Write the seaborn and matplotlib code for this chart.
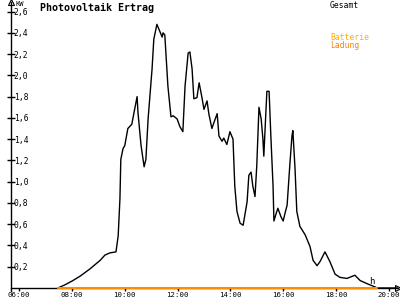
import matplotlib
matplotlib.use("Agg")
import matplotlib.pyplot as plt
import seaborn as sns
import pandas as pd

# Gesamt (kW) over time of day
times = ["7:28", "7:44", "8:00", "8:18", "8:41", "9:04", "9:15", "9:26", "9:40", "9:45",
         "9:49", "9:51", "9:56", "10:00", "10:07", "10:16", "10:21", "10:28", "10:30", "10:37",
         "10:44", "10:48", "10:53", "11:02", "11:06", "11:13", "11:18", "11:25", "11:27", "11:31",
         "11:38", "11:45", "11:50", "11:59", "12:05", "12:12", "12:17", "12:24", "12:28", "12:33",
         "12:37", "12:44", "12:49", "12:55", "13:00", "13:07", "13:11", "13:18", "13:23", "13:30",
         "13:34", "13:41", "13:45", "13:52", "13:59", "14:06", "14:10", "14:15", "14:22", "14:29",
         "14:38", "14:42", "14:47", "14:51", "14:56", "15:00", "15:05", "15:10", "15:14", "15:16",
         "15:21", "15:23", "15:28", "15:32", "15:37", "15:39", "15:44", "15:48", "15:55", "16:00",
         "16:04", "16:09", "16:15", "16:20", "16:22", "16:27", "16:31", "16:38", "16:50", "17:01",
         "17:08", "17:17", "17:24", "17:35", "17:46", "17:58", "18:09", "18:25", "18:43", "18:55",
         "19:11", "19:29", "19:33", "20:20"]
gesamt = [0.0, 0.03, 0.065, 0.11, 0.18, 0.26, 0.31, 0.33, 0.34, 0.49,
          0.84, 1.21, 1.31, 1.34, 1.50, 1.54, 1.65, 1.80, 1.65, 1.34,
          1.14, 1.21, 1.59, 2.06, 2.34, 2.48, 2.43, 2.36, 2.40, 2.38,
          1.90, 1.61, 1.62, 1.59, 1.52, 1.47, 1.90, 2.21, 2.22, 2.06,
          1.78, 1.79, 1.93, 1.80, 1.68, 1.76, 1.64, 1.50, 1.56, 1.64,
          1.43, 1.38, 1.41, 1.35, 1.47, 1.40, 0.96, 0.72, 0.61, 0.59,
          0.81, 1.06, 1.09, 0.96, 0.86, 1.15, 1.70, 1.59, 1.40, 1.24,
          1.68, 1.85, 1.85, 1.43, 0.96, 0.63, 0.70, 0.75, 0.67, 0.63,
          0.70, 0.78, 1.15, 1.43, 1.48, 1.12, 0.72, 0.58, 0.50, 0.39,
          0.26, 0.21, 0.25, 0.34, 0.25, 0.13, 0.10, 0.09, 0.12, 0.07,
          0.04, 0.01, 0.0, 0.0]

# Batterie Ladung (kW)
ladung_times = ["7:28", "19:33"]
ladung = [0.0, 0.0]

x_ticks = ["06:00", "08:00", "10:00", "12:00", "14:00", "16:00", "18:00", "20:00"]
y_ticks = [0.2, 0.4, 0.6, 0.8, 1.0, 1.2, 1.4, 1.6, 1.8, 2.0, 2.2, 2.4, 2.6]


def to_hours(s):
    h, m = s.split(":")
    return int(h) + int(m) / 60.0


df = pd.DataFrame({"t": [to_hours(s) for s in times], "kW": gesamt})
df_l = pd.DataFrame({"t": [to_hours(s) for s in ladung_times], "kW": ladung})

sns.set_theme(style="white")
plt.rcParams["font.family"] = ["DejaVu Sans Mono"]

fig = plt.figure(figsize=(4, 3), dpi=100)
ax = fig.add_axes([11 / 400, 12 / 300, 387 / 400, 286 / 300])

sns.lineplot(data=df, x="t", y="kW", ax=ax, color="black", linewidth=1.0, estimator=None, sort=False)
sns.lineplot(data=df_l, x="t", y="kW", ax=ax, color="#FF8C00", linewidth=1.5, estimator=None, sort=False,
             zorder=5, clip_on=False)

ax.set_xlim(5.69, 20.35)
ax.set_ylim(0, 2.69)
ax.set_xlabel("")
ax.set_ylabel("")

for s in ["top", "right"]:
    ax.spines[s].set_visible(False)
for s in ["left", "bottom"]:
    ax.spines[s].set_color("black")
    ax.spines[s].set_linewidth(1.0)
ax.spines["left"].set_bounds(-0.03, 2.69)
ax.spines["left"].set_clip_on(False)

# arrow heads
ax.plot(1, 0, ">", transform=ax.transAxes, color="black", markersize=4, clip_on=False,
        markerfacecolor="none", markeredgewidth=0.8)
ax.plot(0, 1, "^", transform=ax.transAxes, color="black", markersize=4, clip_on=False,
        markerfacecolor="none", markeredgewidth=0.8)

ax.set_xticks([to_hours(s) for s in x_ticks])
ax.set_xticklabels(x_ticks)
ax.tick_params(axis="x", direction="out", length=2.5, width=1, color="black", labelsize=5.3, pad=0.3,
               bottom=True, labelcolor="black")

ax.set_yticks(y_ticks)
ax.set_yticklabels([f"{v:.1f}".replace(".", ",") for v in y_ticks])
ax.tick_params(axis="y", direction="inout", length=6, width=1, color="black", labelsize=5.8,
               pad=-5, left=True, labelcolor="black")
for lbl in ax.get_yticklabels():
    lbl.set_horizontalalignment("left")

fig.text(15 / 400, 1 - 4 / 300, "KW", fontsize=5, va="center", ha="left", color="black")
fig.text(369 / 400, 1 - 281 / 300, "h", fontsize=6.5, ha="left", va="center", color="black")

fig.text(40 / 400, 1 - 8 / 300, "Photovoltaik Ertrag", fontsize=7.2, fontweight="bold",
         ha="left", va="center", color="black")
fig.text(330 / 400, 1 - 5 / 300, "Gesamt", fontsize=5.8, ha="left", va="center", color="black")
fig.text(330 / 400, 1 - 37 / 300, "Batterie", fontsize=5.8, ha="left", va="center", color="#FFB000")
fig.text(330 / 400, 1 - 45 / 300, "Ladung", fontsize=5.8, ha="left", va="center", color="#FF8000")

fig.savefig("out.png", dpi=100, facecolor="white")
